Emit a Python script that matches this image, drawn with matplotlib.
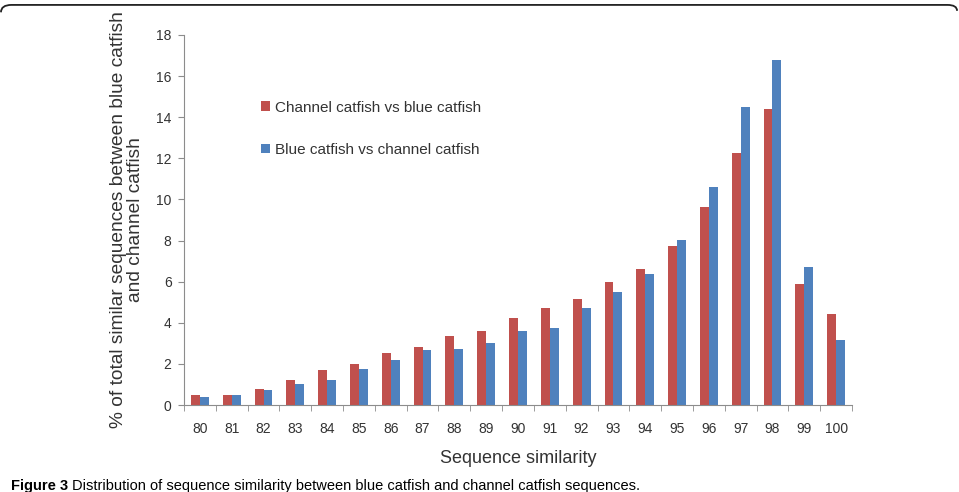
import numpy as np
import matplotlib.pyplot as plt
from matplotlib.path import Path
from matplotlib.patches import PathPatch

# Sequence similarity categories and percentages
similarity = [80, 81, 82, 83, 84, 85, 86, 87, 88, 89, 90,
              91, 92, 93, 94, 95, 96, 97, 98, 99, 100]
channel_vs_blue = [0.49, 0.49, 0.80, 1.22, 1.68, 2.01, 2.52, 2.80, 3.35, 3.61, 4.23,
                   4.70, 5.15, 5.98, 6.63, 7.72, 9.62, 12.28, 14.38, 5.90, 4.43]
blue_vs_channel = [0.37, 0.49, 0.71, 1.04, 1.22, 1.77, 2.18, 2.68, 2.74, 3.00, 3.62,
                   3.75, 4.74, 5.52, 6.37, 8.03, 10.60, 14.52, 16.77, 6.72, 3.15]

red = '#C0504D'
blue = '#4F81BD'
grey = '#8C8C8C'

plt.rcParams['font.family'] = ['Liberation Sans', 'DejaVu Sans']

fig = plt.figure(figsize=(9.59, 4.92), dpi=100)
ax = fig.add_axes([0.1919, 0.1768, 0.6965, 0.7521])

x = np.arange(len(similarity))
w = 0.28
ax.bar(x - w / 2, channel_vs_blue, width=w, color=red, label='Channel catfish vs blue catfish')
ax.bar(x + w / 2, blue_vs_channel, width=w, color=blue, label='Blue catfish vs channel catfish')

ax.set_xlim(-0.5, len(similarity) - 0.5)
ax.set_ylim(0, 18)
ax.set_yticks(range(0, 19, 2))
ax.set_xticks(x)
ax.set_xticklabels([str(s) for s in similarity], fontsize=10, color='#333333')
ax.set_xticks(np.arange(-0.5, len(similarity)), minor=True)
ax.tick_params(axis='x', which='major', length=0, pad=12)
ax.tick_params(axis='x', which='minor', length=4, color=grey, direction='out')
ax.tick_params(axis='y', length=4, color=grey, labelsize=10, labelcolor='#333333', pad=5)

for side in ['top', 'right']:
    ax.spines[side].set_visible(False)
for side in ['left', 'bottom']:
    ax.spines[side].set_color(grey)

ax.set_xlabel('Sequence similarity', fontsize=13, color='#333333', labelpad=10)
ax.set_ylabel('% of total similar sequences between blue catfish\nand channel catfish',
              fontsize=13.8, color='#333333', labelpad=9, linespacing=1.0)

ax.legend(loc='upper left', bbox_to_anchor=(0.095, 0.86), frameon=False, fontsize=11,
          handlelength=0.6, handleheight=0.6, handletextpad=0.3, labelspacing=1.85,
          labelcolor='#333333')

# caption: bold figure number followed by plain text
cap1 = fig.text(0.011, 0.004, 'Figure 3', fontsize=10.5, fontweight='bold')
fig.canvas.draw()
bb = cap1.get_window_extent(fig.canvas.get_renderer())
fig.text(bb.x1 / fig.bbox.width + 0.004, 0.004,
         'Distribution of sequence similarity between blue catfish and channel catfish sequences.',
         fontsize=10.5)

# rounded frame top edge
verts = [(0.001, 0.975), (0.001, 0.99), (0.012, 0.99), (0.988, 0.99), (0.998, 0.99), (0.998, 0.978)]
codes = [Path.MOVETO, Path.CURVE3, Path.CURVE3, Path.LINETO, Path.CURVE3, Path.CURVE3]
fig.patches.append(PathPatch(Path(verts, codes), transform=fig.transFigure,
                             fill=False, edgecolor='#222222', linewidth=1.3))

fig.savefig('out.png', dpi=100)
